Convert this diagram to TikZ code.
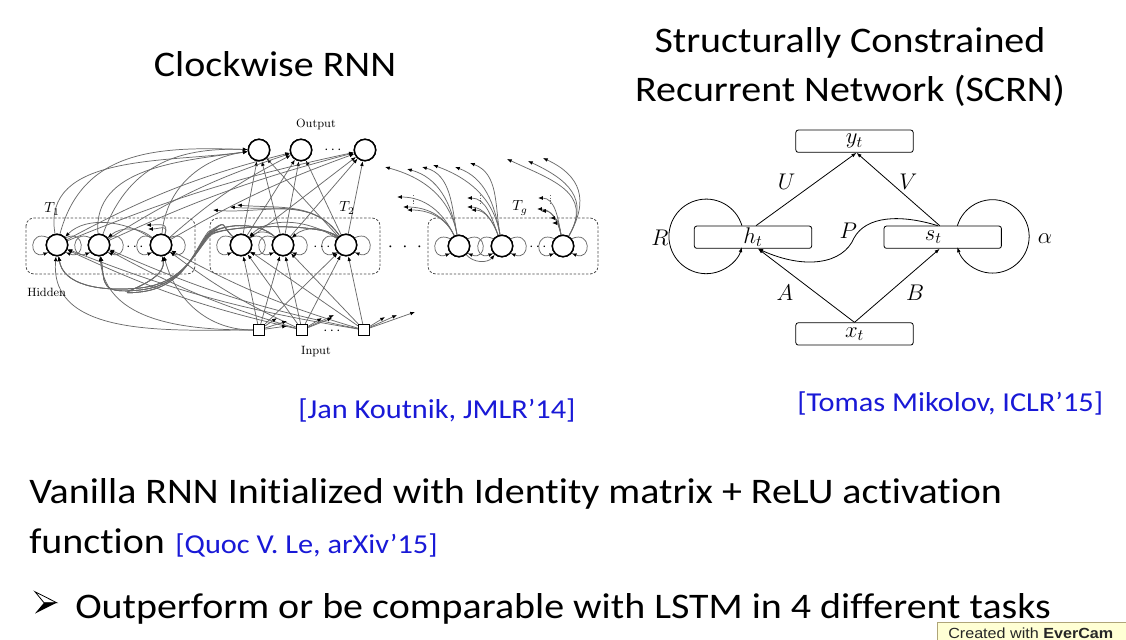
\RequirePackage{fix-cm}
\documentclass[tikz,border=0pt]{standalone}
\usepackage[no-math]{fontspec}
\setmainfont{Carlito}[FakeStretch=1.11,Ligatures=NoCommon]
\newfontfamily\badgefont{Liberation Sans}[FakeStretch=1.1]
\usetikzlibrary{arrows.meta,calc}
\definecolor{citeblue}{RGB}{25,25,215}
\definecolor{wiregray}{RGB}{105,105,105}
\definecolor{badgefill}{RGB}{255,255,212}
\definecolor{badgeline}{RGB}{175,165,120}
\newcommand\bigtxt{\fontsize{27}{32}\selectfont}
\newcommand\citetxt{\fontsize{20.5}{24}\selectfont}
\newcommand\cmtext[1]{$\mathrm{#1}$}
\tikzset{
  wtip/.tip={Latex[length=3.6pt,width=2.8pt,black]},
  stip/.tip={Latex[length=3.8pt,width=2.8pt,black]},
  wire/.style={draw=wiregray,line width=0.55pt,-wtip},
  neuron/.style={circle,draw=black,line width=1.1pt,minimum size=16pt,inner sep=0pt,fill=white},
  inbox/.style={rectangle,draw=black,line width=0.85pt,minimum size=8.4pt,inner sep=0pt,fill=white},
  modbox/.style={draw=black!70,line width=0.6pt,dash pattern=on 1.8pt off 1.3pt,rounded corners=6pt},
  smalllbl/.style={font=\fontsize{9}{10}\selectfont,inner sep=0pt},
  tlbl/.style={font=\fontsize{11}{12}\selectfont,inner sep=0pt},
  scrnbox/.style={rectangle,draw=black,line width=0.6pt,rounded corners=1.8pt,minimum width=88pt,minimum height=16.7pt,inner sep=0pt,fill=white,font=\fontsize{17}{17}\selectfont},
  sarrow/.style={draw=black,line width=0.6pt,-stip},
  mathlbl/.style={font=\fontsize{17}{17}\selectfont,inner sep=0pt},
}
\begin{document}
\begin{tikzpicture}[x=0.75pt,y=0.75pt]
\useasboundingbox (0,0) rectangle (1126,-639);
\clip (0,0) rectangle (1126,-639);
\fill[white] (0,0) rectangle (1126,-639);

% ---------------- titles ----------------
\node[anchor=base,inner sep=0pt,font=\bigtxt] (title1) at (275,-76) {Clockwise RNN};
\node[anchor=base,inner sep=0pt,font=\bigtxt] (title2a) at (850,-52) {Structurally Constrained};
\node[anchor=base,inner sep=0pt,font=\bigtxt] (title2b) at (850,-101) {Recurrent Network (SCRN)};

% ---------------- clockwise RNN ----------------
% module frames
\draw[modbox] (26,-218) rectangle (195,-274);
\draw[modbox] (210,-218) rectangle (380,-274);
\draw[modbox] (428,-218) rectangle (598,-274);

% output units
\node[neuron] (o1) at (259,-150) {};
\node[neuron] (o2) at (301,-150) {};
\node[neuron] (o3) at (365,-150) {};
% hidden units, three modules
\node[neuron] (h11) at (57,-245) {};
\node[neuron] (h12) at (99,-245) {};
\node[neuron] (h13) at (161,-245) {};
\node[neuron] (h21) at (241,-245) {};
\node[neuron] (h22) at (283,-245) {};
\node[neuron] (h23) at (346,-245) {};
\node[neuron] (h31) at (459,-246) {};
\node[neuron] (h32) at (502,-246) {};
\node[neuron] (h33) at (563,-246) {};
% input units
\node[inbox] (i1) at (259,-330) {};
\node[inbox] (i2) at (302,-330) {};
\node[inbox] (i3) at (364,-330) {};

% hidden to output
\foreach \h in {h21,h22,h23}{\foreach \o in {o1,o2,o3}{\draw[wire] (\h) -- (\o);}}
\foreach \h/\a in {h11/100,h12/95,h13/85}{\draw[wire] (\h) to[out=\a,in=188] (o1);}
\foreach \h/\a in {h11/75,h12/70}{\draw[wire] (\h) to[out=\a,in=178,looseness=1.1] (o1);}
\foreach \h in {h11,h12,h13}{\draw[wire] (\h) to[bend left=7] (o2); \draw[wire] (\h) to[bend left=5] (o3);}

% input to hidden
\foreach \i in {i1,i2,i3}{\foreach \h in {h21,h22,h23}{\draw[wire] (\i) -- (\h);}}
\foreach \h/\a in {h11/-95,h12/-85,h13/-75}{\draw[wire] (i1) to[out=180,in=\a] (\h);}
\foreach \i in {i2,i3}{\foreach \h in {h11,h12,h13}{\draw[wire] (\i) to[bend left=6] (\h);}}

% slower module feeding the faster one
\foreach \a/\k in {h21/0,h22/1,h23/2}{\foreach \b/\m in {h11/0,h12/1,h13/2}{
  \draw[wire] (\a) .. controls +(-22,22) and ($(228,-220)+(0,-\k*2)$) .. ($(211,-232)+(-\m*1.5,-\k*1.5)$)
     .. controls ($(196,-250)+(-\m,0)$) and ($(185,-283)+(0,-\m*2)$) .. ($(140,-288)+(0,-\m*2)$)
     .. controls ($(100,-292)+(0,-\m*2)$) and ($(\b)+(6,-40)$) .. (\b);}}

% recurrent loops inside every module
\foreach \h in {h11,h12,h13,h21,h22,h23,h31,h32,h33}{
  \draw[wire] (\h.140) .. controls +(-20,9) and +(-20,-8) .. (\h.220);
  \draw[wire] (\h.40) .. controls +(20,9) and +(20,-8) .. (\h.320);
}
\draw[wire] (h23) to[out=140,in=40] (h22);
\draw[wire] (h23) to[out=145,in=45,looseness=0.9] (h21);
\draw[wire] (h22) to[out=135,in=40] (h21);
\draw[wire] (h13) to[out=140,in=40] (h12);
\draw[wire] (h13) to[out=145,in=45,looseness=0.9] (h11);
\draw[wire] (h31) to[out=-50,in=-130] (h32);

% connections leaving the module frames, drawn cut short
\foreach \x/\y in {213/-210,230/-207,237/-205}{\draw[wire] (h23) to[out=125,in=-5] (\x,\y);}
\foreach \x/\y in {146/-225,148/-229}{\draw[wire] (h13) to[out=70,in=0,looseness=1.6] (\x,\y);}
\foreach \x/\y in {385/-167,407/-169,422/-167}{\draw[wire] (h31) to[out=100,in=-15] (\x,\y);}
\foreach \x/\y in {433/-165,455/-167,470/-163}{\draw[wire] (h32) to[out=100,in=-20] (\x,\y);}
\foreach \x/\y in {507/-159,528/-161,543/-158}{\draw[wire] (h33) to[out=60,in=-25,looseness=1.3] (\x,\y);}
\foreach \x/\y in {397/-197,403/-207,407/-210}{\draw[wire] (h31) to[out=115,in=0] (\x,\y);}
\foreach \x/\y in {467/-198,467/-207,471/-210}{\draw[wire] (h32) to[out=110,in=0] (\x,\y);}
\foreach \x/\y in {538/-198,537/-209,541/-211,550/-218,552/-223}{\draw[wire] (h33) to[out=100,in=0] (\x,\y);}
\foreach \x in {413,480,550}{\draw[draw=wiregray,line width=0.45pt,dash pattern=on 1pt off 1pt] (\x,-195) -- (\x,-204);}
\foreach \x/\y in {277/-318,287/-321,287/-326}{\draw[wire] (i1) -- (\x,\y);}
\foreach \x/\y in {322/-318,332/-318,334/-315}{\draw[wire] (i2) -- (\x,\y);}
\foreach \x/\y in {385/-317,397/-315,415/-312}{\draw[wire] (i3) -- (\x,\y);}

% redraw units on top of the wiring
\foreach \n/\x/\y in {o1/259/-150,o2/301/-150,o3/365/-150,h11/57/-245,h12/99/-245,h13/161/-245,h21/241/-245,h22/283/-245,h23/346/-245,h31/459/-246,h32/502/-246,h33/563/-246}{
  \node[neuron] at (\x,\y) {};}
\foreach \x in {259,302,364}{\node[inbox] at (\x,-330) {};}

% ellipses and labels
\node[tlbl] (dots1) at (135,-247) {$\cdots$};
\node[tlbl] (dots2) at (322,-247) {$\cdots$};
\node[tlbl] (dots3) at (538,-247) {$\cdots$};
\node[tlbl,font=\fontsize{14}{14}\selectfont] (dotsm) at (405,-247) {$\cdot\;\cdot\;\cdot$};
\node[tlbl] (dotso) at (333,-150) {$\cdots$};
\node[tlbl] (dotsi) at (332,-331) {$\cdots$};
\node[tlbl] (T1) at (52,-209) {$T_1$};
\node[tlbl] (T2) at (347,-208) {$T_2$};
\node[tlbl] (Tg) at (520,-208) {$T_g$};
\node[smalllbl] (outl) at (316,-125) {\cmtext{Output}};
\node[smalllbl] (inl) at (316,-352) {\cmtext{Input}};
\node[smalllbl,anchor=west] (hidl) at (27,-292) {\cmtext{Hidden}};

% ---------------- SCRN ----------------
\node[scrnbox] (yt) at (854.5,-141.2) {$y_t$};
\node[scrnbox] (ht) at (753,-237.2) {$h_t$};
\node[scrnbox] (st) at (942.7,-237.2) {\hspace*{-14pt}$s_t$};
\node[scrnbox] (xt) at (854.5,-333.9) {$x_t$};
\draw[sarrow] ($(ht.north)+(3,0)$) -- ($(yt.south)+(2,0)$);
\draw[sarrow] ($(st.north)+(-3,0)$) -- ($(yt.south)+(2,0)$);
\draw[sarrow] (xt.north) -- ($(ht.south)+(5,0)$);
\draw[sarrow] (xt.north) -- ($(st.south)+(-3,0)$);
\draw[sarrow] ($(st.north)+(-5,0)$) .. controls (900,-214) and (866,-216) .. (854,-238)
   .. controls (843,-264) and (805,-270) .. ($(ht.south)+(5,0)$);
\draw[sarrow] ($(ht.north west)+(48,0)$) arc[start angle=16.7,end angle=343.3,radius=37.3];
\draw[sarrow] ($(st.north east)+(-44.4,0)$) arc[start angle=163,end angle=-163,radius=36.7];
\node[mathlbl] (lU) at (786.7,-181.7) {$U$};
\node[mathlbl] (lV) at (908.3,-181.7) {$V$};
\node[mathlbl] (lA) at (785,-292.3) {$A$};
\node[mathlbl] (lB) at (915,-292.3) {$B$};
\node[mathlbl] (lP) at (848.3,-230.7) {$P$};
\node[mathlbl] (lR) at (660,-237.3) {$R$};
\node[mathlbl] (la) at (1045,-238.3) {$\alpha$};

% ---------------- references ----------------
\node[anchor=base west,inner sep=0pt,font=\citetxt,text=citeblue] (cite1) at (298,-418) {[Jan Koutnik, JMLR’14]};
\node[anchor=base west,inner sep=0pt,font=\citetxt,text=citeblue] (cite2) at (797,-411) {[Tomas Mikolov, ICLR’15]};

% ---------------- bottom text ----------------
\node[anchor=base west,inner sep=0pt,font=\bigtxt] (line1) at (29,-503) {Vanilla RNN Initialized with Identity matrix + ReLU activation};
\node[anchor=base west,inner sep=0pt,font=\bigtxt] (line2) at (29,-553) {function};
\node[anchor=base west,inner sep=0pt,font=\citetxt,text=citeblue] (cite3) at (175,-553) {[Quoc V. Le, arXiv’15]};
% arrowhead bullet
\draw[line width=0.6pt,line join=miter] (35,-591.7) -- (56.7,-602.7) -- (44,-602.7) -- cycle;
\fill (44,-602.7) -- (56.7,-602.7) -- (35,-613.5) -- cycle;
\node[anchor=base west,inner sep=0pt,font=\bigtxt] (line3) at (75,-618) {Outperform or be comparable with LSTM in 4 different tasks};

% recorder badge
\draw[fill=badgefill,draw=badgeline,line width=0.6pt] (937,-622) rectangle (1130,-645);
\node[anchor=base west,inner sep=0pt,font=\badgefont\fontsize{11}{11}\selectfont,text=black!85] (badge) at (948,-638) {Created with \textbf{EverCam}};
\end{tikzpicture}
\end{document}
